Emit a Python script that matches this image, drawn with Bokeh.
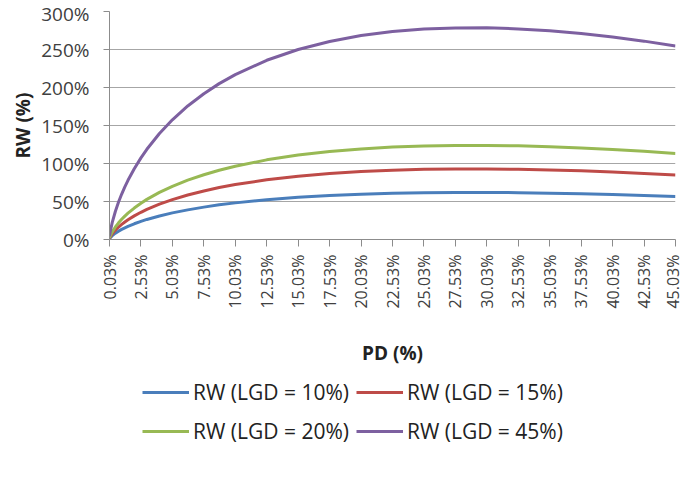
import math
from bokeh.plotting import figure
from bokeh.layouts import column
from bokeh.models import (Range1d, FixedTicker, CustomJSTickFormatter, Legend, LegendItem)
from bokeh.embed import file_html
from bokeh.resources import INLINE

# PD values (%) and risk weights (%)
pd_pct = [0.03, 0.05, 0.1, 0.25, 0.5, 0.75, 1.0, 1.25, 1.5, 2.0, 2.53, 3.0, 4.0, 5.03, 6.25,
          7.53, 8.75, 10.03, 12.53, 15.03, 17.53, 20.03, 22.53, 25.03, 27.53, 30.03, 32.53,
          35.03, 37.53, 40.03, 42.53, 45.03]
rw_lgd10 = [1.0, 1.5, 2.5, 5.0, 8.3, 11.0, 13.3, 15.4, 17.3, 20.7, 23.9, 26.4, 31.0, 35.0, 39.0,
            42.6, 45.6, 48.2, 52.4, 55.6, 57.9, 59.6, 60.8, 61.6, 61.9, 61.9, 61.6,
            61.0, 60.2, 59.2, 58.0, 56.6]
rw_lgd15 = [1.5, 2.2, 3.8, 7.5, 12.4, 16.4, 19.9, 23.1, 26.0, 31.1, 35.8, 39.6, 46.5, 52.5, 58.6,
            63.9, 68.4, 72.3, 78.6, 83.3, 86.9, 89.4, 91.2, 92.3, 92.8, 92.8, 92.4,
            91.5, 90.3, 88.8, 87.0, 84.9]
rw_lgd20 = [2.0, 2.9, 5.0, 10.0, 16.5, 21.9, 26.6, 30.8, 34.6, 41.4, 47.7, 52.8, 62.0, 70.0, 78.1,
            85.2, 91.2, 96.4, 104.8, 111.1, 115.8, 119.2, 121.6, 123.1, 123.7, 123.8, 123.2,
            122.0, 120.4, 118.4, 116.0, 113.2]
rw_lgd45 = [4.4, 6.6, 11.3, 22.6, 37.2, 49.3, 59.8, 69.2, 77.9, 93.2, 107.4, 118.7, 139.5, 157.5, 175.7,
            191.8, 205.1, 216.9, 235.8, 250.0, 260.6, 268.3, 273.7, 277.0, 278.4, 278.5, 277.1,
            274.6, 271.0, 266.4, 261.0, 254.7]

series_names = ["RW (LGD = 10%)", "RW (LGD = 15%)", "RW (LGD = 20%)", "RW (LGD = 45%)"]
series_colors = ["#4a7ebb", "#be4b48", "#98b954", "#7d60a0"]

x_ticks = [0.03, 2.53, 5.03, 7.53, 10.03, 12.53, 15.03, 17.53, 20.03, 22.53, 25.03,
           27.53, 30.03, 32.53, 35.03, 37.53, 40.03, 42.53, 45.03]
x_tick_labels = ["0.03%", "2.53%", "5.03%", "7.53%", "10.03%", "12.53%", "15.03%", "17.53%",
                 "20.03%", "22.53%", "25.03%", "27.53%", "30.03%", "32.53%", "35.03%",
                 "37.53%", "40.03%", "42.53%", "45.03%"]
y_ticks = [0, 50, 100, 150, 200, 250, 300]
y_tick_labels = ["0%", "50%", "100%", "150%", "200%", "250%", "300%"]

FONT = "Open Sans"

p = figure(width=683, height=368, output_backend="svg", toolbar_location=None,
           x_range=Range1d(0.03, 45.03), y_range=Range1d(0, 300),
           min_border_left=109, min_border_right=8, min_border_top=11, min_border_bottom=129)
p.outline_line_color = None
p.background_fill_color = "white"

for ys, c in zip([rw_lgd10, rw_lgd15, rw_lgd20, rw_lgd45], series_colors):
    p.line(pd_pct, ys, line_color=c, line_width=3)

# axes
fmt_js = """
const i = tks.findIndex(t => Math.abs(t - tick) < 1e-6);
return i >= 0 ? lbls[i] : "";
"""
p.xaxis.ticker = FixedTicker(ticks=x_ticks)
p.xaxis.formatter = CustomJSTickFormatter(args=dict(tks=x_ticks, lbls=x_tick_labels), code=fmt_js)
p.yaxis.ticker = FixedTicker(ticks=y_ticks)
p.yaxis.formatter = CustomJSTickFormatter(args=dict(tks=y_ticks, lbls=y_tick_labels), code=fmt_js)

for ax in [p.xaxis[0], p.yaxis[0]]:
    ax.axis_line_color = "#8c8c8c"
    ax.major_tick_line_color = "#8c8c8c"
    ax.minor_tick_line_color = None
    ax.major_tick_in = 0
    ax.major_label_text_color = "#404040"
    ax.major_label_text_font = FONT
    ax.axis_label_text_font = FONT
    ax.axis_label_text_font_style = "bold"
    ax.axis_label_text_color = "#222222"
    ax.axis_label_text_font_size = "19px"

p.xaxis.axis_label = "PD (%)"
p.xaxis.major_label_orientation = math.pi / 2
p.xaxis.major_label_text_font_size = "16px"
p.xaxis.major_tick_out = 7
p.xaxis.major_label_standoff = 8
p.xaxis.axis_label_standoff = 28

p.yaxis.axis_label = "RW (%)"
p.yaxis.major_label_text_font_size = "19px"
p.yaxis.major_tick_out = 6
p.yaxis.major_label_standoff = 14
p.yaxis.axis_label_standoff = 2

p.xgrid.grid_line_color = None
p.ygrid.grid_line_color = "#a6a6a6"
p.ygrid.grid_line_width = 1.2

# legend panel below the chart
lg = figure(width=683, height=94, output_backend="svg", toolbar_location=None,
            x_axis_type=None, y_axis_type=None,
            x_range=Range1d(0, 1), y_range=Range1d(0, 1),
            min_border_left=0, min_border_right=0, min_border_top=0, min_border_bottom=0)
lg.grid.visible = False
lg.outline_line_color = None

# key lines live outside the visible range of this panel; only their legend keys show
keys = []
for c in series_colors:
    keys.append(lg.line([5, 6], [5, 6], line_color=c, line_width=3))

def make_legend(idx, loc):
    lgd = Legend(items=[LegendItem(label=series_names[i], renderers=[keys[i]]) for i in idx],
                 orientation="horizontal", location=loc)
    lgd.label_text_font = FONT
    lgd.label_text_font_size = "21px"
    lgd.label_text_color = "#222222"
    lgd.glyph_width = 47
    lgd.glyph_height = 26
    lgd.label_height = 26
    lgd.label_standoff = 4
    lgd.spacing = 7
    lgd.padding = 0
    lgd.margin = 0
    lgd.border_line_color = None
    lgd.background_fill_alpha = 0
    return lgd

lg.add_layout(make_legend([0, 1], (33, 56)), "center")
lg.add_layout(make_legend([2, 3], (33, 17)), "center")

layout = column(p, lg, spacing=0)
open("out.html", "w").write(file_html(layout, INLINE))
